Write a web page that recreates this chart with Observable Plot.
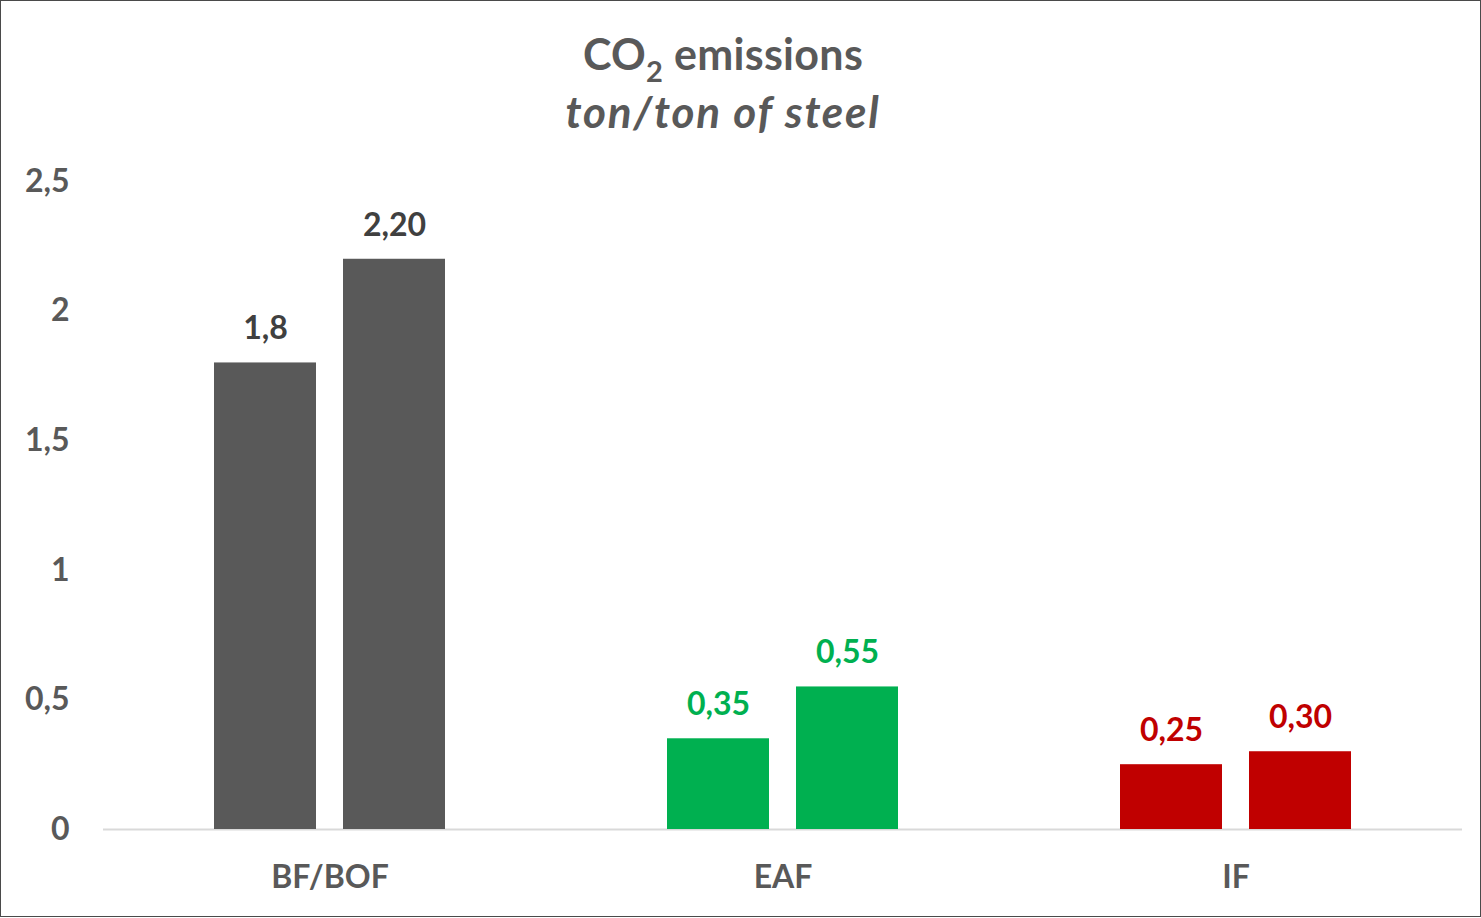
<!DOCTYPE html>
<html>
<head>
<meta charset="utf-8">
<script src="https://cdn.jsdelivr.net/npm/d3@7"></script>
<script src="https://cdn.jsdelivr.net/npm/@observablehq/plot@0.6"></script>
<style>
  html, body { margin: 0; padding: 0; background: #fff; }
  #frame { position: relative; width: 1479px; height: 915px; border: 1px solid #4a4a4a; background: #fff; overflow: hidden; font-family: Lato, "Open Sans", sans-serif; }
  .t { position: absolute; left: 0; width: 1444px; text-align: center; color: #595959; font-weight: bold; line-height: 50px; }
  #title { top: 28px; font-size: 43px; letter-spacing: 0.3px; }
  #title sub { font-size: 29px; vertical-align: -12px; line-height: 0; }
  #subtitle { top: 85px; font-size: 44px; font-style: italic; letter-spacing: 1.8px; }
  #chart { position: absolute; left: 0; top: 150px; }
</style>
</head>
<body>
<div id="frame">
  <div id="title" class="t">CO<sub>2</sub> emissions</div>
  <div id="subtitle" class="t">ton/ton of steel</div>
  <div id="chart"></div>
</div>
<script>
const categories = ["BF/BOF", "EAF", "IF"];
const seriesKeys = ["A", "B"];
const valuesA = [1.8, 0.35, 0.25];
const valuesB = [2.2, 0.55, 0.30];
const labelsA = ["1,8", "0,35", "0,25"];
const labelsB = ["2,20", "0,55", "0,30"];
const colors = ["#595959", "#00B050", "#C00000"];
const labelColors = ["#404040", "#00B050", "#C00000"];
const yTicks = [0, 0.5, 1, 1.5, 2, 2.5];

const rows = [];
categories.forEach((c, i) => {
  rows.push({cat: c, lab: c + " label", s: seriesKeys[0], v: valuesA[i], label: labelsA[i]});
  rows.push({cat: c, lab: c + " label", s: seriesKeys[1], v: valuesB[i], label: labelsB[i]});
});

const chart = Plot.plot({
  width: 1479,
  height: 760,
  marginTop: 30,
  marginLeft: 101,
  marginRight: 18,
  marginBottom: 82,
  style: {fontFamily: "Lato, 'Open Sans', sans-serif", fontSize: "32px", fontWeight: "bold", color: "#595959", background: "transparent"},
  facet: {data: rows, x: "cat"},
  fx: {domain: categories, padding: 0, axis: "bottom", label: null, tickSize: 0, tickPadding: 36},
  x: {domain: seriesKeys, paddingInner: 0.2077, paddingOuter: 0.847, axis: null},
  y: {domain: [0, 2.5], ticks: yTicks, tickFormat: d => String(d).replace(".", ","), tickSize: 0, tickPadding: 34, label: null, line: false},
  color: {domain: [...categories, ...categories.map(c => c + " label")], range: [...colors, ...labelColors]},
  marks: [
    Plot.ruleY([0], {stroke: "#d9d9d9", strokeWidth: 2}),
    Plot.barY(rows, {x: "s", y: "v", fill: "cat"}),
    Plot.text(rows, {x: "s", y: "v", text: "label", fill: "lab", dy: -34, lineAnchor: "middle", fontSize: 32, fontWeight: "bold"})
  ]
});
document.getElementById("chart").appendChild(chart);
</script>
</body>
</html>
